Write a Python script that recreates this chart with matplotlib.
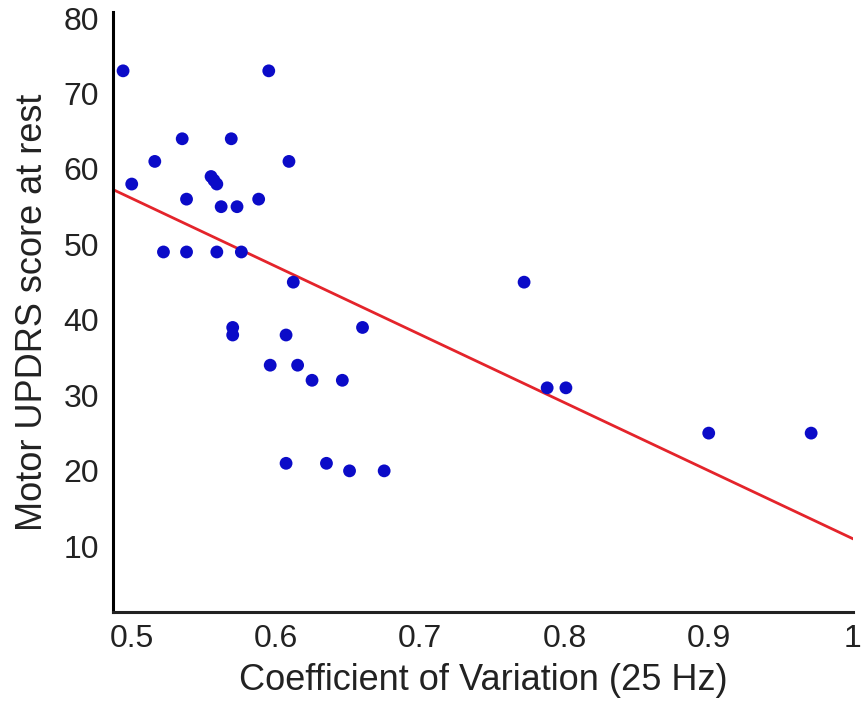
import numpy as np
import matplotlib
matplotlib.use('Agg')
import matplotlib.pyplot as plt

plt.rcParams['font.family'] = ['Liberation Sans', 'DejaVu Sans']

# coefficient of variation (25 Hz) and motor UPDRS score at rest
cv = [0.494, 0.595, 0.535, 0.569, 0.516, 0.609, 0.500, 0.555, 0.557, 0.559,
      0.538, 0.562, 0.573, 0.588, 0.522, 0.538, 0.559, 0.576, 0.612, 0.570,
      0.570, 0.607, 0.660, 0.596, 0.615, 0.625, 0.646, 0.607, 0.635, 0.651,
      0.675, 0.772, 0.788, 0.801, 0.900, 0.971]
updrs = [73, 73, 64, 64, 61, 61, 58, 59, 58.5, 58,
         56, 55, 55, 56, 49, 49, 49, 49, 45, 39,
         38, 38, 39, 34, 34, 32, 32, 21, 21, 20,
         20, 45, 31, 31, 25, 25]

# regression line
fit_intercept = 101.2
fit_slope = -90.2

xticks = [0.5, 0.6, 0.7, 0.8, 0.9, 1.0]
xticklabels = ['0.5', '0.6', '0.7', '0.8', '0.9', '1']
yticks = [10, 20, 30, 40, 50, 60, 70, 80]

fig = plt.figure(figsize=(8.65, 7.08), dpi=100)
ax = fig.add_axes([0.1306, 0.1356, 0.8555, 0.8475])

xlim = (0.487, 1.0)
ax.set_xlim(xlim)
ax.set_ylim(1.3, 80.8)

lx = np.array(xlim)
ax.plot(lx, fit_intercept + fit_slope * lx, color='#e4242b', lw=2.0, zorder=2)
ax.scatter(cv, updrs, s=85, color='#0b0bc8', edgecolors='none', zorder=3)

ax.spines['top'].set_visible(False)
ax.spines['right'].set_visible(False)
ax.spines['left'].set_linewidth(2.2)
ax.spines['bottom'].set_linewidth(2.2)
ax.spines['bottom'].set_color('#222222')

ax.set_xticks(xticks)
ax.set_xticklabels(xticklabels)
ax.set_yticks(yticks)
ax.tick_params(length=0, labelsize=23, labelcolor='#222222')
ax.tick_params(axis='x', pad=9)
ax.tick_params(axis='y', pad=10)

ax.set_xlabel('Coefficient of Variation (25 Hz)', fontsize=26, color='#222222', labelpad=6)
ax.set_ylabel('Motor UPDRS score at rest', fontsize=26, color='#222222', labelpad=10)

fig.savefig('out.png', dpi=100)
